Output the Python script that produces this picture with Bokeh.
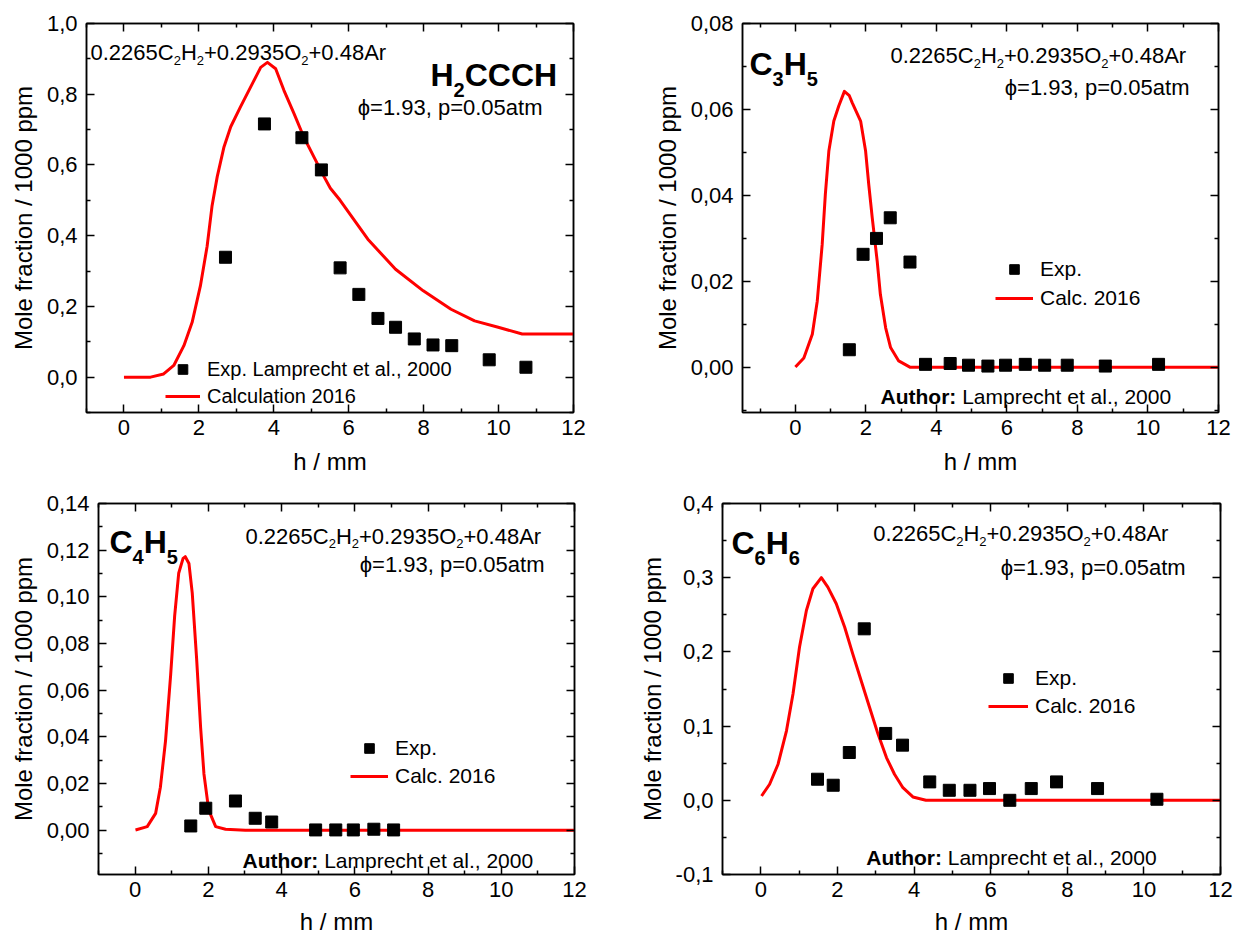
from bokeh.plotting import figure
from bokeh.models import Range1d, LinearAxis, FixedTicker, Label, Legend, LegendItem
from bokeh.layouts import column, row
from bokeh.embed import file_html
from bokeh.resources import INLINE

FONT = "Liberation Sans"
RED = "#ff0000"

# ---- values (h in mm, mole fraction / 1000 ppm) ----
# H2CCCH
h2ccch_exp_h = [2.71, 3.75, 4.75, 5.27, 5.77, 6.27, 6.78, 7.25, 7.75, 8.25, 8.75, 9.75, 10.73]
h2ccch_exp_x = [0.339, 0.716, 0.677, 0.586, 0.309, 0.234, 0.166, 0.141, 0.108, 0.091, 0.089, 0.049, 0.028]
h2ccch_calc_h = [0.0, 0.71, 1.06, 1.33, 1.60, 1.82, 2.04, 2.22, 2.35, 2.49, 2.67, 2.85, 3.11, 3.38,
                 3.65, 3.83, 4.05, 4.27, 4.54, 4.80, 5.07, 5.34, 5.51, 5.77, 6.51, 7.25, 7.99,
                 8.73, 9.36, 9.99, 10.63, 12.0]
h2ccch_calc_x = [0.0, 0.0, 0.009, 0.033, 0.089, 0.155, 0.258, 0.370, 0.483, 0.567, 0.651, 0.708, 0.764,
                 0.820, 0.876, 0.890, 0.872, 0.811, 0.745, 0.679, 0.623, 0.567, 0.534, 0.500, 0.390,
                 0.305, 0.244, 0.192, 0.159, 0.141, 0.122, 0.122]

# C3H5
c3h5_exp_h = [1.53, 1.92, 2.30, 2.69, 3.25, 3.69, 4.39, 4.91, 5.46, 5.96, 6.52, 7.07, 7.71, 8.79, 10.30]
c3h5_exp_x = [0.0041, 0.0263, 0.0300, 0.0348, 0.0245, 0.0007, 0.0009, 0.0005, 0.0003, 0.0005,
              0.0007, 0.0005, 0.0005, 0.0003, 0.0007]
c3h5_calc_h = [0.0, 0.24, 0.48, 0.62, 0.76, 0.85, 0.95, 1.09, 1.23, 1.39, 1.53, 1.61, 1.85, 1.99,
               2.08, 2.18, 2.32, 2.41, 2.56, 2.70, 2.93, 3.26, 12.0]
c3h5_calc_x = [0.0001, 0.0022, 0.0077, 0.0154, 0.0286, 0.0403, 0.0504, 0.0573, 0.0608, 0.0642, 0.0632,
               0.0616, 0.0573, 0.0504, 0.0426, 0.0348, 0.0247, 0.0170, 0.0092, 0.0046, 0.0015, 0.0, 0.0]

# C4H5
c4h5_exp_h = [1.52, 1.93, 2.74, 3.28, 3.73, 4.93, 5.48, 5.96, 6.52, 7.06]
c4h5_exp_x = [0.0018, 0.0094, 0.0125, 0.0051, 0.0035, 0.0001, 0.0001, 0.0001, 0.0004, 0.0001]
c4h5_calc_h = [0.01, 0.33, 0.56, 0.69, 0.83, 0.97, 1.08, 1.19, 1.31, 1.37, 1.47, 1.56, 1.68, 1.79,
               1.88, 2.01, 2.20, 2.47, 3.01, 12.0]
c4h5_calc_x = [0.0001, 0.0015, 0.0072, 0.0184, 0.0382, 0.0664, 0.0918, 0.1101, 0.1165, 0.1172, 0.1143,
               0.1017, 0.0734, 0.0438, 0.0241, 0.0086, 0.0015, 0.0004, 0.0, 0.0]

# C6H6
c6h6_exp_h = [1.48, 1.89, 2.31, 2.70, 3.26, 3.70, 4.41, 4.92, 5.46, 5.97, 6.50, 7.06, 7.72, 8.79, 10.34]
c6h6_exp_x = [0.0284, 0.0203, 0.0644, 0.2311, 0.0901, 0.0743, 0.0248, 0.0135, 0.0135, 0.0158,
              0.0, 0.0158, 0.0248, 0.0158, 0.0014]
c6h6_calc_h = [0.02, 0.23, 0.45, 0.67, 0.84, 1.01, 1.19, 1.36, 1.58, 1.75, 1.97, 2.19, 2.40, 2.62,
               2.84, 3.06, 3.28, 3.49, 3.71, 3.97, 4.31, 12.0]
c6h6_calc_x = [0.0058, 0.0216, 0.0486, 0.0936, 0.1432, 0.2062, 0.2558, 0.2851, 0.300, 0.2873, 0.2649,
               0.2332, 0.1973, 0.1612, 0.1251, 0.0892, 0.0576, 0.0351, 0.0170, 0.0045, 0.0, 0.0]

# ticks
x_ticks = [0, 2, 4, 6, 8, 10, 12]
x_minor = [-1, 1, 3, 5, 7, 9, 11]
h2ccch_yticks = [0.0, 0.2, 0.4, 0.6, 0.8, 1.0]
h2ccch_ylabels = ["0,0", "0,2", "0,4", "0,6", "0,8", "1,0"]
h2ccch_yminor = [-0.1, 0.1, 0.3, 0.5, 0.7, 0.9]
c3h5_yticks = [0.0, 0.02, 0.04, 0.06, 0.08]
c3h5_ylabels = ["0,00", "0,02", "0,04", "0,06", "0,08"]
c3h5_yminor = [-0.01, 0.01, 0.03, 0.05, 0.07]
c4h5_yticks = [0.0, 0.02, 0.04, 0.06, 0.08, 0.10, 0.12, 0.14]
c4h5_ylabels = ["0,00", "0,02", "0,04", "0,06", "0,08", "0,10", "0,12", "0,14"]
c4h5_yminor = [-0.01, 0.01, 0.03, 0.05, 0.07, 0.09, 0.11, 0.13]
c6h6_yticks = [-0.1, 0.0, 0.1, 0.2, 0.3, 0.4]
c6h6_ylabels = ["-0,1", "0,0", "0,1", "0,2", "0,3", "0,4"]
c6h6_yminor = [-0.05, 0.05, 0.15, 0.25, 0.35]

mixture = [("0.2265C", False), ("2", True), ("H", False), ("2", True),
           ("+0.2935O", False), ("2", True), ("+0.48Ar", False)]
conditions = "\u03d5=1.93, p=0.05atm"
author = "Lamprecht et al., 2000"

# Arial / Liberation Sans advance widths (1/1000 em) for placing the subscript pieces
REG = {c: 556 for c in "0123456789"}
REG.update({".": 278, ",": 278, "+": 584, "=": 584, " ": 278, "C": 722, "H": 722, "O": 778,
            "A": 667, "r": 333})
BOLD = {c: 556 for c in "0123456789"}
BOLD.update({"C": 722, "H": 722, "A": 722, "u": 611, "t": 333, "h": 611, "o": 611, "r": 389,
             ":": 333, " ": 278})

frames = {}  # figure id -> frame box in page pixels (x0, x1, y0, y1)


def tw(s, size, bold=False):
    table = BOLD if bold else REG
    return sum(table.get(ch, 556) for ch in s) * size / 1000.0


def make_panel(width, height, borders, frame, xr, yr, yticks, ylabels, yminor, xlab_standoff):
    left, right, top, bottom = borders
    p = figure(width=width, height=height, x_range=Range1d(*xr), y_range=Range1d(*yr),
               output_backend="svg", toolbar_location=None,
               min_border_left=left, min_border_right=right,
               min_border_top=top, min_border_bottom=bottom)
    frames[p.id] = frame
    p.xgrid.grid_line_color = None
    p.ygrid.grid_line_color = None
    p.outline_line_color = "black"
    p.outline_line_width = 1.5
    p.background_fill_color = "white"
    p.border_fill_color = "white"

    xa = p.below[0]
    ya = p.left[0]
    xt = FixedTicker(ticks=x_ticks, minor_ticks=x_minor)
    yt = FixedTicker(ticks=yticks, minor_ticks=yminor)
    xa.ticker = xt
    ya.ticker = yt
    ya.major_label_overrides = dict(zip(yticks, ylabels))

    # mirrored tick-only axes on top and right
    top_ax = LinearAxis(ticker=xt)
    right_ax = LinearAxis(ticker=yt)
    for ax in (top_ax, right_ax):
        ax.major_label_text_color = None
        ax.major_label_text_font_size = "1px"
        ax.major_label_standoff = 0
    p.add_layout(top_ax, "above")
    p.add_layout(right_ax, "right")

    for ax in (xa, ya, top_ax, right_ax):
        ax.axis_line_width = 1.5
        ax.major_tick_in = 8
        ax.major_tick_out = 0
        ax.minor_tick_in = 4
        ax.minor_tick_out = 0
        ax.major_tick_line_width = 1.5
        ax.minor_tick_line_width = 1.5

    for ax in (xa, ya):
        ax.major_label_text_font = FONT
        ax.axis_label_text_font = FONT
        ax.axis_label_text_font_style = "normal"
        ax.axis_label_text_font_size = "24px"
        ax.major_label_text_font_size = "22px"
        ax.major_label_text_color = "black"
        ax.axis_label_text_color = "black"

    xa.axis_label = "h / mm"
    xa.major_label_standoff = 7
    xa.axis_label_standoff = xlab_standoff
    ya.axis_label = "Mole fraction / 1000 ppm"
    ya.major_label_standoff = 9
    ya.axis_label_standoff = 7
    return p


def to_data(p, px, py):
    fx0, fx1, fy0, fy1 = frames[p.id]
    xr, yr = p.x_range, p.y_range
    x = xr.start + (px - fx0) / (fx1 - fx0) * (xr.end - xr.start)
    y = yr.end - (py - fy0) / (fy1 - fy0) * (yr.end - yr.start)
    return x, y


def put(p, px, py, text, size, bold=False, align="left"):
    x, y = to_data(p, px, py)
    p.add_layout(Label(x=x, y=y, text=text, text_font=FONT, text_font_size=f"{size}px",
                       text_font_style="bold" if bold else "normal", text_align=align,
                       text_baseline="alphabetic", text_color="black"))


def put_pieces(p, px, py, pieces, size, sub_size, sub_dy, bold=False):
    for txt, sub in pieces:
        s = sub_size if sub else size
        put(p, px, py + (sub_dy if sub else 0), txt, s, bold)
        px += tw(txt, s, bold)


def decorate(p, species, sp_xy, mix_xy, cond_xy, author_xy=None):
    put_pieces(p, sp_xy[0], sp_xy[1], species, 32, 20, 15, bold=True)
    put_pieces(p, mix_xy[0], mix_xy[1], mixture, 22, 13, 8)
    put(p, cond_xy[0], cond_xy[1], conditions, 22, align="right")
    if author_xy is not None:
        put(p, author_xy[0], author_xy[1], "Author:", 21, bold=True)
        put(p, author_xy[0] + tw("Author: ", 21, True), author_xy[1], author, 21)


def plot_series(p, exp_h, exp_x, calc_h, calc_x, exp_label, calc_label, loc, glyph_w, spacing, font_px):
    ln = p.line(calc_h, calc_x, line_color=RED, line_width=3, line_join="round")
    sc = p.scatter(exp_h, exp_x, marker="square", size=12, fill_color="black", line_color="black")
    leg = Legend(items=[LegendItem(label=exp_label, renderers=[sc]),
                        LegendItem(label=calc_label, renderers=[ln])],
                 location=loc, border_line_color=None, background_fill_alpha=0,
                 padding=0, margin=0, spacing=spacing, glyph_width=glyph_w, glyph_height=24,
                 label_height=24, label_standoff=7, label_text_font=FONT,
                 label_text_font_size=f"{font_px}px", label_text_color="black")
    p.add_layout(leg)


# the page template has no body margin: the grid spans 0..1233 x 0..942
# panel 1: H2CCCH
p1 = make_panel(640, 484, (86, 67, 23, 70), (86, 573, 23, 414), (-1, 12), (-0.1, 1.0),
                h2ccch_yticks, h2ccch_ylabels, h2ccch_yminor, 10)
plot_series(p1, h2ccch_exp_h, h2ccch_exp_x, h2ccch_calc_h, h2ccch_calc_x,
            "Exp. Lamprecht et al., 2000", "Calculation 2016", (79, 4), 35, 3, 20)
decorate(p1, [("H", False), ("2", True), ("CCCH", False)], (430, 75), (90, 52), (542, 107))

# panel 2: C3H5
p2 = make_panel(593, 484, (102, 15, 23, 72), (742, 1218, 23, 412), (-1.5, 12), (-0.0105, 0.08),
                c3h5_yticks, c3h5_ylabels, c3h5_yminor, 10)
plot_series(p2, c3h5_exp_h, c3h5_exp_x, c3h5_calc_h, c3h5_calc_x,
            "Exp.", "Calc. 2016", (253, 102), 38, 5, 21)
decorate(p2, [("C", False), ("3", True), ("H", False), ("5", True)], (749, 63),
         (890, 55), (1189, 87), (880, 396))

# panel 3: C4H5
p3 = make_panel(635, 458, (98, 61, 15, 67), (98, 574, 499, 875), (-1, 12), (-0.019, 0.14),
                c4h5_yticks, c4h5_ylabels, c4h5_yminor, 8)
plot_series(p3, c4h5_exp_h, c4h5_exp_x, c4h5_calc_h, c4h5_calc_x,
            "Exp.", "Calc. 2016", (252, 86), 38, 4, 21)
decorate(p3, [("C", False), ("4", True), ("H", False), ("5", True)], (109, 538),
         (245, 532), (544, 561), (242, 861))

# panel 4: C6H6
p4 = make_panel(598, 458, (86, 13, 19, 68), (721, 1220, 503, 874), (-1, 12), (-0.1, 0.4),
                c6h6_yticks, c6h6_ylabels, c6h6_yminor, 8)
plot_series(p4, c6h6_exp_h, c6h6_exp_x, c6h6_calc_h, c6h6_calc_x,
            "Exp.", "Calc. 2016", (266, 156), 40, 4, 21)
decorate(p4, [("C", False), ("6", True), ("H", False), ("6", True)], (730, 542),
         (872, 533), (1185, 567), (865, 857))

layout = column(row(p1, p2), row(p3, p4))
open("out.html", "w").write(file_html(layout, INLINE))
